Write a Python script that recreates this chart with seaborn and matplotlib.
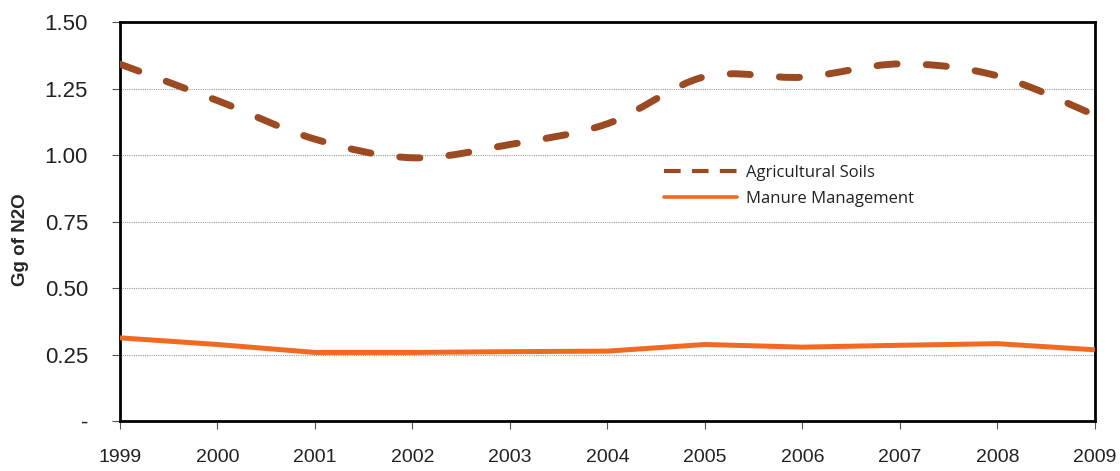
import numpy as np
import pandas as pd
import matplotlib
matplotlib.use("Agg")
import matplotlib.pyplot as plt
from matplotlib.path import Path
from matplotlib.patches import PathPatch
from matplotlib.lines import Line2D
import seaborn as sns

# Emission series (Gg of N2O)
years = [1999, 2000, 2001, 2002, 2003, 2004, 2005, 2006, 2007, 2008, 2009]
agricultural_soils = [1.342, 1.205, 1.060, 0.990, 1.040, 1.118, 1.295, 1.293, 1.343, 1.298, 1.150]
manure_management = [0.313, 0.288, 0.258, 0.258, 0.261, 0.263, 0.288, 0.278, 0.285, 0.291, 0.268]

y_ticks = [0.0, 0.25, 0.50, 0.75, 1.00, 1.25, 1.50]
y_tick_labels = ["-", "0.25", "0.50", "0.75", "1.00", "1.25", "1.50"]

soil_color = "#9C4A22"
manure_color = "#F26A22"

sns.set_theme(style="white")
plt.rcParams["font.family"] = ["Liberation Sans", "DejaVu Sans"]

fig = plt.figure(figsize=(11.2, 4.71), dpi=100)
ax = fig.add_axes([0.1071, 0.106, 0.8705, 0.847])

df = pd.DataFrame({"year": years, "manure": manure_management})
sns.lineplot(data=df, x="year", y="manure", ax=ax, color=manure_color,
             linewidth=3.6, solid_capstyle="butt", zorder=3)


def smooth_path(xs, ys):
    """Bezier path through the points with smoothed joins."""
    pts = np.column_stack([xs, ys]).astype(float)
    n = len(pts)
    verts = [pts[0]]
    codes = [Path.MOVETO]
    for i in range(n - 1):
        p0 = pts[max(i - 1, 0)]
        p1 = pts[i]
        p2 = pts[i + 1]
        p3 = pts[min(i + 2, n - 1)]
        c1 = p1 + (p2 - p0) / 6.0
        c2 = p2 - (p3 - p1) / 6.0
        verts += [c1, c2, p2]
        codes += [Path.CURVE4] * 3
    return Path(verts, codes)


soil_patch = PathPatch(smooth_path(years, agricultural_soils), fill=False,
                       edgecolor=soil_color, linewidth=5.0,
                       linestyle=(0, (2.9, 4.2)), capstyle="round", zorder=4)
ax.add_patch(soil_patch)

ax.set_xlim(1999, 2009)
ax.set_ylim(0, 1.5)
ax.set_xticks(years)
ax.set_xticklabels([str(y) for y in years], fontsize=14,
                   family=["Liberation Sans Narrow", "Liberation Sans"])
ax.set_yticks(y_ticks)
ax.set_yticklabels(y_tick_labels, fontsize=16, color="#222222")

ax.yaxis.grid(True, linestyle=(0, (1, 1)), color="#9a9a9a", linewidth=0.8)
ax.xaxis.grid(False)
ax.set_axisbelow(True)

for s in ax.spines.values():
    s.set_visible(True)
    s.set_color("black")
    s.set_linewidth(2.0)

ax.tick_params(axis="x", direction="out", length=6, width=0.8, color="#555555",
               pad=14, labelcolor="#222222")
ax.tick_params(axis="y", direction="out", length=6, width=0.8, color="#555555",
               pad=17)
ax.tick_params(bottom=True, left=True)

ax.set_xlabel("")
ax.set_ylabel("Gg of N2O", fontsize=13.5, fontweight="bold")
ax.yaxis.set_label_coords(-0.093, 0.454)

handles = [
    Line2D([0], [0], color=soil_color, linewidth=3.0, linestyle=(0, (4.0, 2.7))),
    Line2D([0], [0], color=manure_color, linewidth=2.6),
]
leg = ax.legend(handles, ["Agricultural Soils", "Manure Management"],
                loc="upper left", bbox_to_anchor=(0.558, 0.642), frameon=False,
                borderpad=0, borderaxespad=0, handlelength=4.4, handletextpad=0.5,
                labelspacing=0.62,
                prop={"family": ["Open Sans", "DejaVu Sans"], "size": 12})
for t in leg.get_texts():
    t.set_color("#222222")

fig.savefig("out.png", dpi=100)
